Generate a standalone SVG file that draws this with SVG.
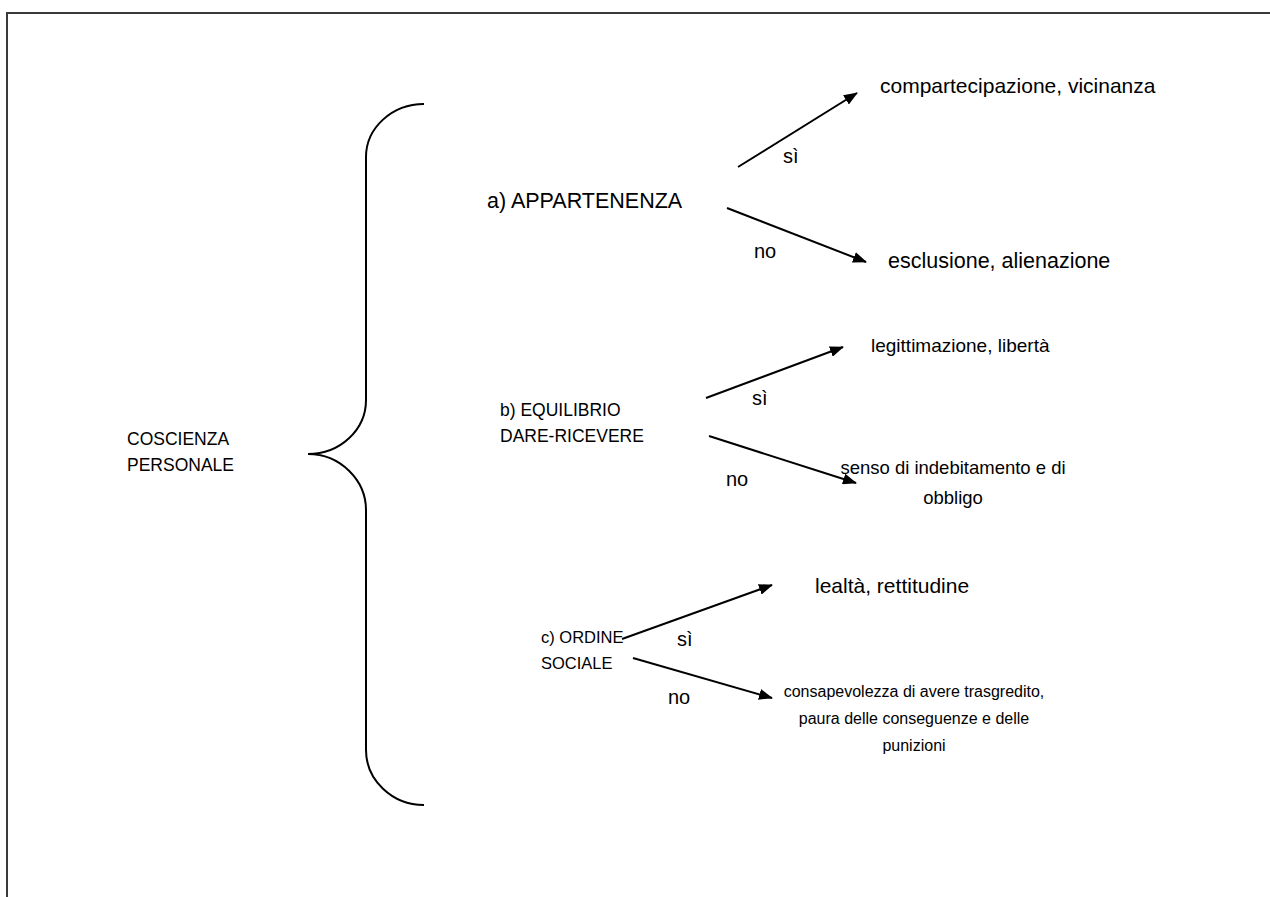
<svg xmlns="http://www.w3.org/2000/svg" width="1270" height="897" viewBox="0 0 1270 897">
<defs>
<style>
text{font-family:"Liberation Sans",Arial,sans-serif;font-size:20px;fill:#000}
.c{text-anchor:middle}
.arr{stroke:#000;stroke-width:2;fill:none;marker-end:url(#ah)}
.brace{stroke:#000;stroke-width:2;fill:none}
.frame{stroke:#3a3a3a;stroke-width:2;fill:none}
</style>
<marker id="ah" markerUnits="userSpaceOnUse" markerWidth="14" markerHeight="11" refX="13" refY="5.5" orient="auto">
<path d="M0,0 L14,5.5 L0,11 z" fill="#000"/>
</marker>
</defs>
<rect width="1270" height="897" fill="#fff"/>
<path class="frame" d="M7,897 L7,13 L1270,13"/>
<g id="root">
<path class="brace" d="M424,104 C392,104 366,128 366,157 L366,400 C366,430 340,454 308,454 C340,454 366,480 366,510 L366,750 C366,780 392,805 424,805"/>
<text x="127" y="445" style="font-size:17.5px">COSCIENZA</text>
<text x="127" y="471" style="font-size:17.5px">PERSONALE</text>
</g>
<g id="a">
<text x="487" y="208" style="font-size:21.5px">a) APPARTENENZA</text>
</g>
<g id="a-si"><text x="880" y="93" style="font-size:21px">compartecipazione, vicinanza</text></g>
<g id="a-no"><text x="888" y="268" style="font-size:21.5px">esclusione, alienazione</text></g>
<g id="b">
<text x="500" y="416" style="font-size:17.5px">b) EQUILIBRIO</text>
<text x="500" y="442" style="font-size:17.5px">DARE-RICEVERE</text>
</g>
<g id="b-si"><text x="871" y="352" style="font-size:19px">legittimazione, libertà</text></g>
<g id="b-no">
<text class="c" x="953" y="474" style="font-size:18.5px">senso di indebitamento e di</text>
<text class="c" x="953" y="504" style="font-size:18.5px">obbligo</text>
</g>
<g id="c">
<text x="541" y="643" style="font-size:16.5px">c) ORDINE</text>
<text x="541" y="669" style="font-size:16.5px">SOCIALE</text>
</g>
<g id="c-si"><text x="815" y="593" style="font-size:21px">lealtà, rettitudine</text></g>
<g id="c-no">
<text class="c" x="914" y="697" style="font-size:16px">consapevolezza di avere trasgredito,</text>
<text class="c" x="914" y="724" style="font-size:16px">paura delle conseguenze e delle</text>
<text class="c" x="914" y="751" style="font-size:16px">punizioni</text>
</g>
<g id="connectors">
<line class="arr" x1="738" y1="167" x2="857" y2="93"/>
<line class="arr" x1="727" y1="208" x2="866" y2="262"/>
<line class="arr" x1="706" y1="398" x2="843" y2="347"/>
<line class="arr" x1="709" y1="436" x2="856" y2="483"/>
<line class="arr" x1="622" y1="639" x2="772" y2="585"/>
<line class="arr" x1="633" y1="658" x2="772" y2="698"/>
<text x="783" y="163">sì</text>
<text x="754" y="258">no</text>
<text x="752" y="405">sì</text>
<text x="726" y="486">no</text>
<text x="677" y="646">sì</text>
<text x="668" y="704">no</text>
</g>
</svg>
